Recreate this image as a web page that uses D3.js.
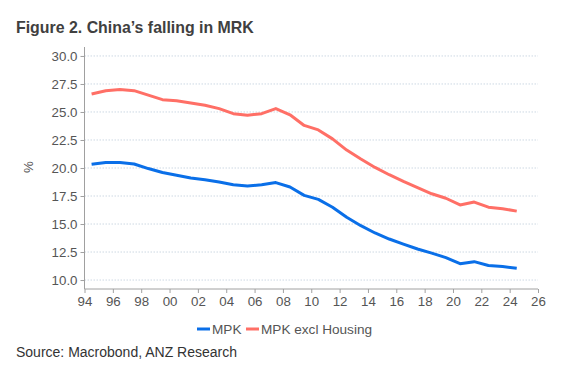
<!DOCTYPE html>
<html><head><meta charset="utf-8">
<script src="https://cdn.jsdelivr.net/npm/d3@7"></script>
<style>
body{margin:0;background:#fff;}
svg{display:block;font-family:"Liberation Sans",Arial,Helvetica,sans-serif;}
</style></head>
<body><svg id="c" width="575" height="369"></svg>
<script>
const years = [94.5,95.5,96.5,97.5,98.5,99.5,100.5,101.5,102.5,103.5,104.5,105.5,106.5,107.5,108.5,109.5,110.5,111.5,112.5,113.5,114.5,115.5,116.5,117.5,118.5,119.5,120.5,121.5,122.5,123.5,124.5];
const mpk = [20.33,20.5,20.5,20.36,19.95,19.6,19.35,19.1,18.96,18.75,18.5,18.4,18.5,18.7,18.3,17.56,17.2,16.5,15.6,14.85,14.2,13.66,13.2,12.77,12.4,12.0,11.46,11.64,11.3,11.2,11.05];
const mpkExHousing = [26.6,26.9,27.0,26.9,26.5,26.1,26.0,25.8,25.6,25.3,24.85,24.7,24.85,25.3,24.75,23.8,23.4,22.6,21.6,20.8,20.05,19.4,18.8,18.25,17.7,17.3,16.7,16.96,16.5,16.37,16.15];
const yTicks = [10,12.5,15,17.5,20,22.5,25,27.5,30];
const xTicks = [94,96,98,100,102,104,106,108,110,112,114,116,118,120,122,124,126];
const xTickLabels = ["94","96","98","00","02","04","06","08","10","12","14","16","18","20","22","24","26"];
const seriesNames = ["MPK","MPK excl Housing"];
const colors = ["#0a6fe8","#ff6f66"];

const svg = d3.select("#c");
const x = d3.scaleLinear().domain([94,126]).range([84.5,538]);
const y = d3.scaleLinear().domain([9.2,30.8]).range([289,47]);

svg.append("text").attr("x",16).attr("y",33).attr("fill","#404040")
  .attr("font-size",15.9).attr("font-weight","bold").text("Figure 2. China\u2019s falling in MRK");

// gridlines
svg.append("g").selectAll("line").data(yTicks).join("line")
  .attr("x1",x(94)).attr("x2",x(126)).attr("y1",d=>y(d)).attr("y2",d=>y(d))
  .attr("stroke","#cdd8e3").attr("stroke-dasharray","1.5,1.5").attr("stroke-width",1);

// y axis
const ya = svg.append("g").attr("transform",`translate(${x(94)},0)`)
  .call(d3.axisLeft(y).tickValues(yTicks).tickFormat(d3.format(".1f")).tickSize(4).tickPadding(3));
ya.select(".domain").attr("stroke","#a0a0a0").attr("d",`M0,${y(30.8)}V${y(9.2)}`);
ya.selectAll(".tick line").attr("stroke","#a0a0a0");
ya.selectAll("text").attr("fill","#555").attr("font-size",13.3).attr("font-family","Liberation Sans, Arial, sans-serif");

// x axis
const xa = svg.append("g").attr("transform",`translate(0,${y(9.2)})`)
  .call(d3.axisBottom(x).tickValues(xTicks).tickFormat((d,i)=>xTickLabels[i]).tickSize(4).tickPadding(4));
xa.select(".domain").attr("stroke","#a0a0a0").attr("d",`M${x(94)},0H${x(126)}`);
xa.selectAll(".tick line").attr("stroke","#a0a0a0");
xa.selectAll("text").attr("fill","#555").attr("font-size",13.3).attr("font-family","Liberation Sans, Arial, sans-serif");

svg.append("text").attr("transform","translate(33,167) rotate(-90)").attr("text-anchor","middle")
  .attr("fill","#555").attr("font-size",13.3).text("%");

const line = d3.line().x((d,i)=>x(years[i])).y(d=>y(d));
[mpk, mpkExHousing].forEach((s,k)=>{
  svg.append("path").datum(s).attr("d",line).attr("fill","none")
    .attr("stroke",colors[k]).attr("stroke-width",3).attr("stroke-linejoin","round").attr("stroke-linecap","butt");
});

// legend
const lg = svg.append("g");
const legX = [197,246];
seriesNames.forEach((n,k)=>{
  lg.append("line").attr("x1",legX[k]).attr("x2",legX[k]+13).attr("y1",329).attr("y2",329)
    .attr("stroke",colors[k]).attr("stroke-width",3);
  lg.append("text").attr("x",legX[k]+15).attr("y",334).attr("fill","#555").attr("font-size",13.6).text(n);
});

svg.append("text").attr("x",16).attr("y",357).attr("fill","#333").attr("font-size",14)
  .text("Source: Macrobond, ANZ Research");
</script></body></html>
